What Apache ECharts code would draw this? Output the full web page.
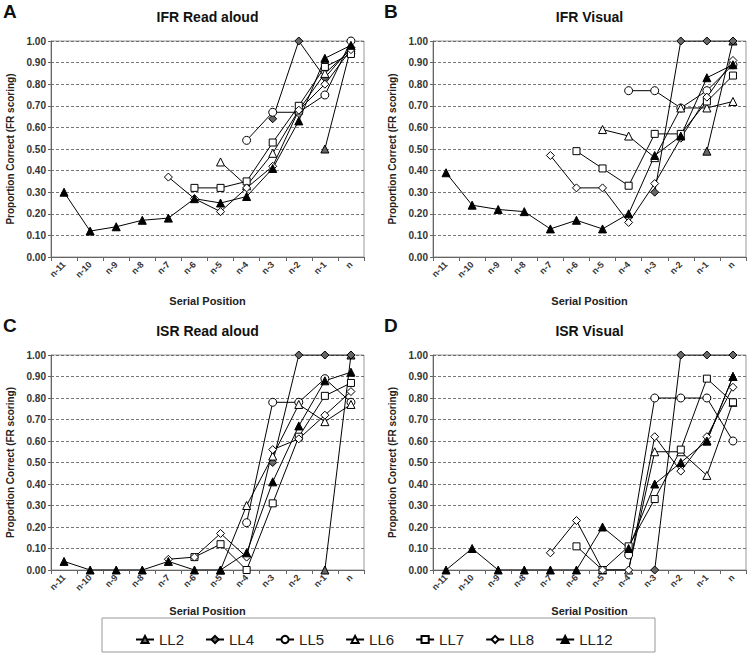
<!DOCTYPE html>
<html>
<head>
<meta charset="utf-8">
<script src="https://cdn.jsdelivr.net/npm/echarts@6/dist/echarts.min.js"></script>
<style>html,body{margin:0;padding:0;background:#fff;}#c{width:750px;height:654px;}</style>
</head>
<body>
<div id="c"></div>
<script>
const categories = ['n-11','n-10','n-9','n-8','n-7','n-6','n-5','n-4','n-3','n-2','n-1','n'];
const seriesNames = ['LL2','LL4','LL5','LL6','LL7','LL8','LL12'];
const panelTitles = ['IFR Read aloud','IFR Visual','ISR Read aloud','ISR Visual'];
const panelLetters = ['A','B','C','D'];
const _ = null;

// Panel A: IFR Read aloud
const ifrRead = {
  LL2:  [_,_,_,_,_,_,_,_,_,_,0.50,0.97],
  LL4:  [_,_,_,_,_,_,_,_,0.64,1.00,0.83,0.97],
  LL5:  [_,_,_,_,_,_,_,0.54,0.67,0.67,0.75,1.00],
  LL6:  [_,_,_,_,_,_,0.44,0.33,0.48,0.68,0.85,0.96],
  LL7:  [_,_,_,_,_,0.32,0.32,0.35,0.53,0.70,0.88,0.94],
  LL8:  [_,_,_,_,0.37,0.27,0.21,0.32,0.42,0.68,0.80,0.96],
  LL12: [0.30,0.12,0.14,0.17,0.18,0.27,0.25,0.28,0.41,0.63,0.92,0.98]
};
// Panel B: IFR Visual
const ifrVisual = {
  LL2:  [_,_,_,_,_,_,_,_,_,_,0.49,1.00],
  LL4:  [_,_,_,_,_,_,_,_,0.30,1.00,1.00,1.00],
  LL5:  [_,_,_,_,_,_,_,0.77,0.77,0.69,0.77,0.89],
  LL6:  [_,_,_,_,_,_,0.59,0.56,0.46,0.69,0.69,0.72],
  LL7:  [_,_,_,_,_,0.49,0.41,0.33,0.57,0.57,0.72,0.84],
  LL8:  [_,_,_,_,0.47,0.32,0.32,0.16,0.34,0.55,0.74,0.91],
  LL12: [0.39,0.24,0.22,0.21,0.13,0.17,0.13,0.20,0.47,0.56,0.83,0.89]
};
// Panel C: ISR Read aloud
const isrRead = {
  LL2:  [_,_,_,_,_,_,_,_,_,_,0.00,1.00],
  LL4:  [_,_,_,_,_,_,_,_,0.50,1.00,1.00,1.00],
  LL5:  [_,_,_,_,_,_,_,0.22,0.78,0.78,0.89,0.78],
  LL6:  [_,_,_,_,_,_,0.00,0.30,0.53,0.77,0.69,0.77],
  LL7:  [_,_,_,_,_,0.06,0.12,0.00,0.31,0.62,0.81,0.87],
  LL8:  [_,_,_,_,0.05,0.06,0.17,0.06,0.56,0.61,0.72,0.83],
  LL12: [0.04,0.00,0.00,0.00,0.04,0.00,0.00,0.08,0.41,0.67,0.88,0.92]
};
// Panel D: ISR Visual
const isrVisual = {
  LL2:  [_,_,_,_,_,_,_,_,_,_,0.60,0.90],
  LL4:  [_,_,_,_,_,_,_,_,0.00,1.00,1.00,1.00],
  LL5:  [_,_,_,_,_,_,_,0.07,0.80,0.80,0.80,0.60],
  LL6:  [_,_,_,_,_,_,0.00,0.00,0.55,0.55,0.44,0.78],
  LL7:  [_,_,_,_,_,0.11,0.00,0.11,0.33,0.56,0.89,0.78],
  LL8:  [_,_,_,_,0.08,0.23,0.00,0.00,0.62,0.46,0.62,0.85],
  LL12: [0.00,0.10,0.00,0.00,0.00,0.00,0.20,0.10,0.40,0.50,0.60,0.90]
};
const panels = [ifrRead, ifrVisual, isrRead, isrVisual];

const styles = {
  LL2:  {symbol:'triangle', size:8, fill:'#666666'},
  LL4:  {symbol:'diamond',  size:8, fill:'#666666'},
  LL5:  {symbol:'circle',   size:8, fill:'#ffffff'},
  LL6:  {symbol:'triangle', size:8, fill:'#ffffff'},
  LL7:  {symbol:'rect',     size:7, fill:'#ffffff'},
  LL8:  {symbol:'diamond',  size:8, fill:'#ffffff'},
  LL12: {symbol:'triangle', size:8, fill:'#000000'}
};

const FONT = 'Liberation Sans, Arial, sans-serif';
const grids = [
  {left:51,  top:41,  width:313, height:216},
  {left:433, top:41,  width:313, height:216},
  {left:51,  top:355, width:313, height:215},
  {left:433, top:355, width:313, height:215}
];
const xNameGaps = [38, 38, 35, 35];

const option = {
  animation:false,
  backgroundColor:'#ffffff',
  grid: grids.map(g => Object.assign({show:true, borderColor:'#999', borderWidth:1, backgroundColor:'transparent'}, g)),
  xAxis: grids.map((g,i) => ({
    type:'category', gridIndex:i, data:categories, boundaryGap:true,
    name:'Serial Position', nameLocation:'middle', nameGap:xNameGaps[i],
    nameTextStyle:{fontFamily:FONT, fontWeight:'bold', fontSize:11, color:'#222'},
    axisLine:{lineStyle:{color:'#666', width:1}},
    axisTick:{show:true, length:4, lineStyle:{color:'#666'}},
    axisLabel:{rotate:45, fontFamily:FONT, fontSize:9, fontWeight:'bold', color:'#333', margin:6, interval:0},
    splitLine:{show:false}
  })),
  yAxis: grids.map((g,i) => ({
    type:'value', gridIndex:i, min:0, max:1, interval:0.1,
    name:'Proportion Correct (FR scoring)', nameLocation:'middle', nameGap:36,
    nameTextStyle:{fontFamily:FONT, fontWeight:'bold', fontSize:10, color:'#222'},
    axisLine:{show:true, lineStyle:{color:'#666', width:1}},
    axisTick:{show:true, length:3, lineStyle:{color:'#666'}},
    axisLabel:{fontFamily:FONT, fontSize:10, fontWeight:'bold', color:'#333', margin:5,
      formatter: v => v.toFixed(2)},
    splitLine:{show:true, lineStyle:{color:'#555', type:[3,2], width:0.8}}
  })),
  legend:{
    data: seriesNames, left:130, top:627, itemGap:21, itemWidth:18, itemHeight:9,
    textStyle:{fontFamily:FONT, fontSize:15, color:'#222'}
  },
  graphic: [
    {type:'rect', shape:{x:102, y:618, width:553, height:34}, style:{fill:'none', stroke:'#999', lineWidth:1}, silent:true}
  ].concat(panelTitles.map((t,i) => ({
    type:'text', x: grids[i].left + grids[i].width/2, y: grids[i].top - 31,
    style:{text:t, font:'bold 14px ' + FONT, fill:'#111', textAlign:'center'}
  }))).concat(panelLetters.map((t,i) => ({
    type:'text', x: i % 2 === 0 ? 3 : 384, y: grids[i].top - 39,
    style:{text:t, font:'bold 19px ' + FONT, fill:'#111'}
  }))),
  series: []
};

panels.forEach((panel, p) => {
  seriesNames.forEach(name => {
    const st = styles[name];
    option.series.push({
      type:'line', name:name, xAxisIndex:p, yAxisIndex:p,
      data: panel[name], symbol: st.symbol, symbolSize: st.size,
      showAllSymbol:true, connectNulls:false,
      lineStyle:{color:'#000', width:1},
      itemStyle:{color: st.fill, borderColor:'#000', borderWidth:1},
      emphasis:{disabled:true}
    });
  });
});

const chart = echarts.init(document.getElementById('c'), null, {renderer:'svg'});
chart.setOption(option);
</script>
</body>
</html>
